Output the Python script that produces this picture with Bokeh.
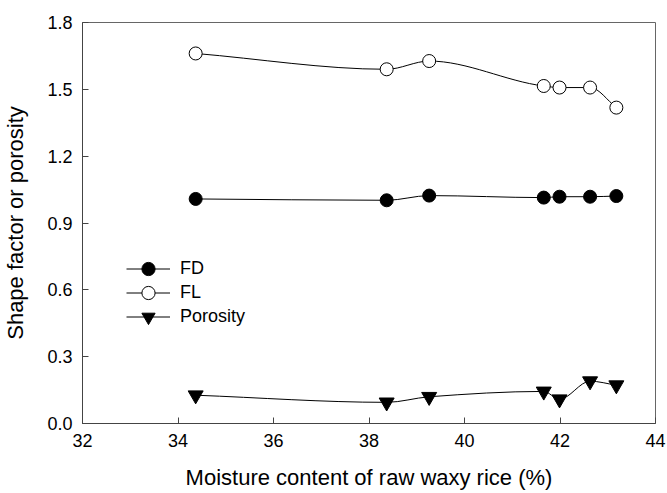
from bokeh.plotting import figure
from bokeh.models import Legend, LegendItem, FixedTicker, PrintfTickFormatter, Range1d
from bokeh.embed import file_html
from bokeh.resources import INLINE

# Moisture content of raw waxy rice (%)
moisture = [34.37, 38.37, 39.26, 41.66, 41.99, 42.63, 43.18]
# Shape factors and porosity at each moisture level
fd = [1.008, 1.002, 1.023, 1.014, 1.018, 1.018, 1.021]
fl = [1.661, 1.590, 1.627, 1.515, 1.508, 1.508, 1.418]
porosity = [0.127, 0.095, 0.120, 0.144, 0.109, 0.190, 0.172]

x_ticks = [32, 34, 36, 38, 40, 42, 44]
y_ticks = [0.0, 0.3, 0.6, 0.9, 1.2, 1.5, 1.8]

FONT = "Liberation Sans"


def pchip_slopes(x, y):
    """Shape-preserving (Fritsch-Carlson) tangents for a smooth curve."""
    n = len(x)
    h = [x[i + 1] - x[i] for i in range(n - 1)]
    d = [(y[i + 1] - y[i]) / h[i] for i in range(n - 1)]
    m = [0.0] * n
    for k in range(1, n - 1):
        if d[k - 1] * d[k] <= 0:
            m[k] = 0.0
        else:
            w1 = 2 * h[k] + h[k - 1]
            w2 = h[k] + 2 * h[k - 1]
            m[k] = (w1 + w2) / (w1 / d[k - 1] + w2 / d[k])
    m[0] = d[0]
    m[-1] = d[-1]
    return m


def curve_segments(x, y):
    """Cubic Bezier segments between successive points (Hermite form)."""
    m = pchip_slopes(x, y)
    seg = dict(x0=[], y0=[], x1=[], y1=[], cx0=[], cy0=[], cx1=[], cy1=[])
    for i in range(len(x) - 1):
        h = x[i + 1] - x[i]
        seg["x0"].append(x[i]); seg["y0"].append(y[i])
        seg["x1"].append(x[i + 1]); seg["y1"].append(y[i + 1])
        seg["cx0"].append(x[i] + h / 3); seg["cy0"].append(y[i] + m[i] * h / 3)
        seg["cx1"].append(x[i + 1] - h / 3); seg["cy1"].append(y[i + 1] - m[i + 1] * h / 3)
    return seg


p = figure(width=667, height=493, output_backend="svg", toolbar_location=None,
           x_range=Range1d(32, 44), y_range=Range1d(0, 1.8),
           min_border_left=82, min_border_right=12, min_border_top=22, min_border_bottom=70)

p.background_fill_color = "white"
p.border_fill_color = "white"
p.outline_line_color = "#666666"
p.outline_line_width = 1
p.xgrid.visible = False
p.ygrid.visible = False

for ax in (p.xaxis[0], p.yaxis[0]):
    ax.axis_line_color = "#444444"
    ax.major_tick_line_color = "#444444"
    ax.major_tick_in = 6
    ax.major_tick_out = 0
    ax.minor_tick_line_color = None
    ax.major_label_text_font = FONT
    ax.major_label_text_font_size = "18px"
    ax.major_label_text_color = "black"
    ax.axis_label_text_font = FONT
    ax.axis_label_text_font_size = "22px"
    ax.axis_label_text_font_style = "normal"
    ax.axis_label_text_color = "black"

p.xaxis.ticker = FixedTicker(ticks=x_ticks)
p.yaxis.ticker = FixedTicker(ticks=y_ticks)
p.yaxis.formatter = PrintfTickFormatter(format="%.1f")
p.xaxis.axis_label = "Moisture content of raw waxy rice (%)"
p.yaxis.axis_label = "Shape factor or porosity"
p.xaxis.major_label_standoff = 10
p.yaxis.major_label_standoff = 10
p.xaxis.axis_label_standoff = 15
p.yaxis.axis_label_standoff = 16

series = [
    ("FD", fd, "circle", "black", 13),
    ("FL", fl, "circle", "white", 13),
    ("Porosity", porosity, "inverted_triangle", "black", 15),
]
# one single-row legend per series, stacked 24 px apart
legend_offsets = [138, 114, 90]
for (name, vals, marker, fill, size), yoff in zip(series, legend_offsets):
    curve = p.bezier(line_color="black", line_width=1, **curve_segments(moisture, vals))
    pts = p.scatter(moisture, vals, marker=marker, size=size, fill_color=fill,
                    line_color="black", line_width=1)
    legend = Legend(items=[LegendItem(label=name, renderers=[curve, pts])],
                    location=(44, yoff), orientation="vertical",
                    glyph_width=44, glyph_height=33, label_height=24, spacing=0,
                    label_standoff=10, padding=0, margin=0,
                    border_line_color=None, background_fill_alpha=0,
                    label_text_font=FONT, label_text_font_size="18px",
                    label_text_color="black")
    p.add_layout(legend, "center")

open("out.html", "w").write(file_html(p, INLINE))
